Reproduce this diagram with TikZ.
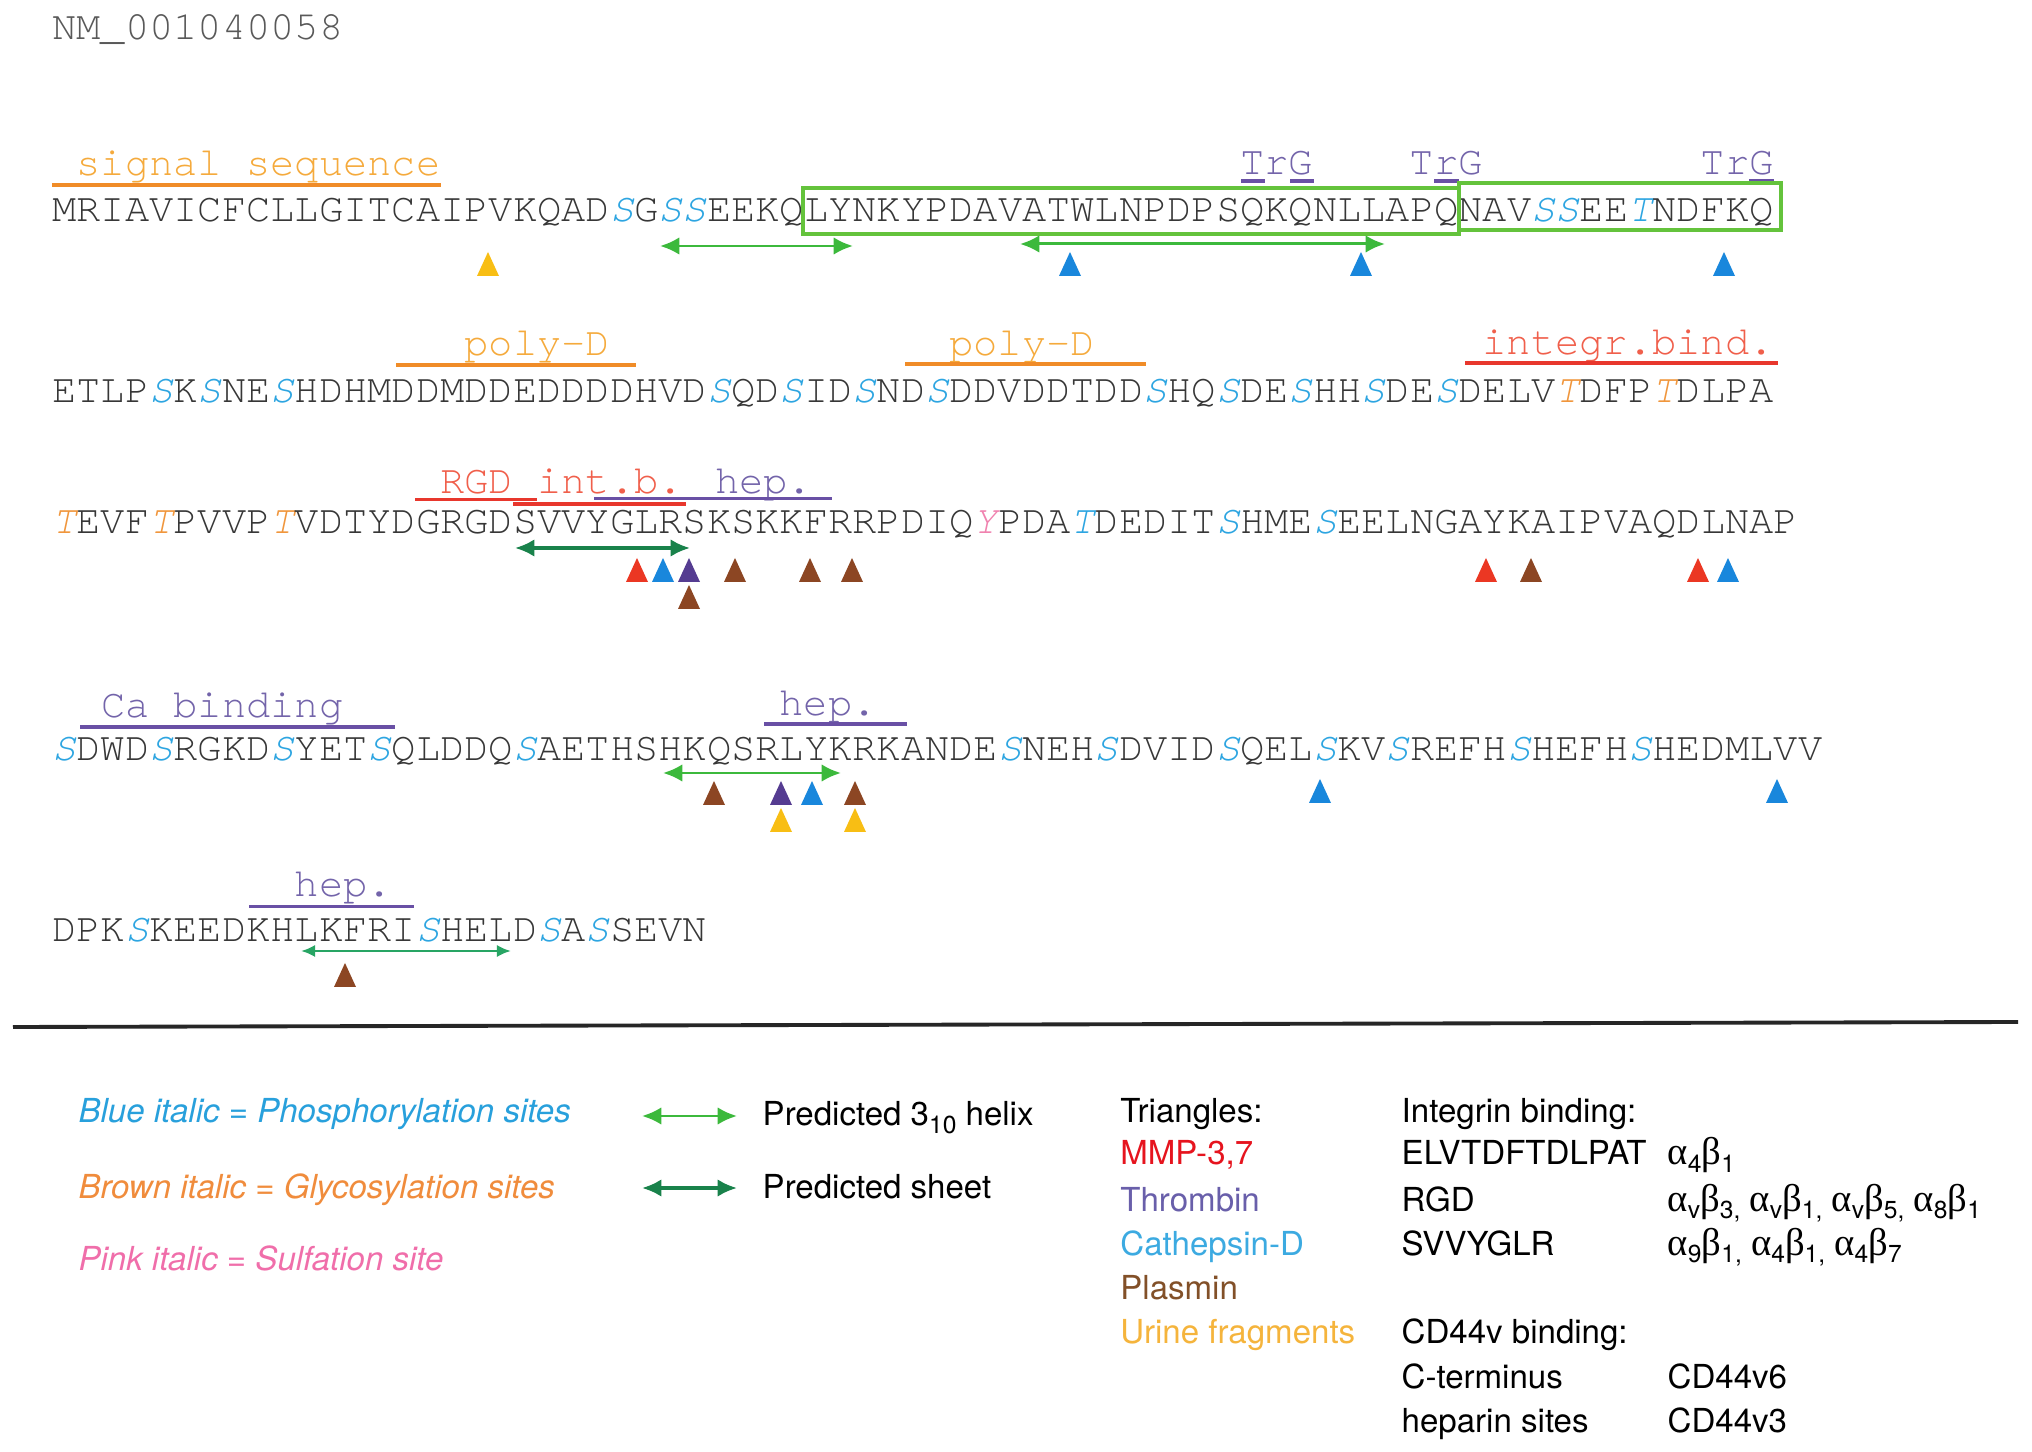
\documentclass[tikz,border=0pt]{standalone}
\usepackage{fontspec}
\usetikzlibrary{arrows.meta}
\newfontfamily\seqfont{TeX Gyre Cursor}
\newfontfamily\legfont{TeX Gyre Heros}
\newfontfamily\grkfont{Liberation Serif}
\definecolor{seqc}{RGB}{55,55,55}
\definecolor{phos}{RGB}{45,165,225}
\definecolor{glyc}{RGB}{240,150,60}
\definecolor{sulf}{RGB}{240,130,175}
\definecolor{boxg}{RGB}{100,195,60}
\definecolor{helixg}{RGB}{60,185,60}
\definecolor{sheetg}{RGB}{25,130,75}
\definecolor{midg}{RGB}{40,165,100}
\definecolor{orlab}{RGB}{245,170,60}
\definecolor{orline}{RGB}{240,140,40}
\definecolor{rdlab}{RGB}{240,95,75}
\definecolor{rdline}{RGB}{232,55,45}
\definecolor{pulab}{RGB}{115,100,170}
\definecolor{puline}{RGB}{105,80,165}
\definecolor{tred}{RGB}{235,55,35}
\definecolor{tblue}{RGB}{25,135,220}
\definecolor{tpurp}{RGB}{85,60,145}
\definecolor{tbrown}{RGB}{140,70,35}
\definecolor{tyell}{RGB}{248,190,20}
\definecolor{lgred}{RGB}{230,20,30}
\definecolor{lgpurp}{RGB}{105,95,170}
\definecolor{lgblue}{RGB}{60,170,225}
\definecolor{lgbrown}{RGB}{130,80,40}
\definecolor{lgyell}{RGB}{245,180,60}
\definecolor{lgphos}{RGB}{40,160,220}
\definecolor{lgglyc}{RGB}{240,140,60}
\definecolor{lgsulf}{RGB}{240,110,170}
\newcommand\Sp{{\color{phos}\itshape S}}
\newcommand\Tp{{\color{phos}\itshape T}}
\newcommand\Tg{{\color{glyc}\itshape T}}
\newcommand\Ys{{\color{sulf}\itshape Y}}
\newcommand\al{{\grkfont\fontsize{11pt}{12pt}\selectfont α}}
\newcommand\be{{\grkfont\fontsize{11pt}{12pt}\selectfont β}}
\newcommand\sbs[1]{\raisebox{-0.45ex}{\fontsize{7pt}{8pt}\selectfont #1}}
\newcommand\tri[3]{\fill[#1] ({#2-11},{#3+24}) -- (#2,#3) -- ({#2+11},{#3+24}) -- cycle;}
\tikzset{
  seq/.style={font=\seqfont\fontsize{11.49pt}{13pt}\selectfont, text=seqc, inner sep=0pt, anchor=base west},
  lab/.style={font=\seqfont\fontsize{11.49pt}{13pt}\selectfont, inner sep=0pt, anchor=base west},
  uline/.style={line width=1pt},
  helix/.style={helixg, line width=0.85pt, {Latex[length=5.5pt,width=5pt]}-{Latex[length=5.5pt,width=5pt]}},
  sheet/.style={sheetg, line width=1pt, {Latex[length=5.5pt,width=5pt]}-{Latex[length=5.5pt,width=5pt]}},
  seqbox/.style={boxg, line width=1.3pt},
  legtxt/.style={font=\legfont\fontsize{9.4pt}{11pt}\selectfont, inner sep=0pt, anchor=base west},
  legit/.style={font=\legfont\itshape\fontsize{9.4pt}{11pt}\selectfont, inner sep=0pt, anchor=base west},
}
\begin{document}
\begin{tikzpicture}[x=0.01cm, y=-0.01cm]
\useasboundingbox (0,0) rectangle (2032,1452);
\fill[white] (0,0) rectangle (2032,1452);

% title
\node[lab, text=black!65] (title) at (51.8,40) {NM\_001040058};

% ---------- line 1 ----------
\node[lab, text=orlab] (sig) at (76.0,176) {signal sequence};
\draw[uline, orline] (51.8,185) -- (441,185);
\node[lab, text=pulab] (trg1) at (1239.6,175) {TrG};
\node[lab, text=pulab] (trg2) at (1409.2,175) {TrG};
\node[lab, text=pulab] (trg3) at (1700.1,175) {TrG};
\draw[uline, puline] (1241,181) -- (1265,181);
\draw[uline, puline] (1290,181) -- (1314,181);
\draw[uline, puline] (1434,181) -- (1459,181);
\draw[uline, puline] (1749,181) -- (1774,181);
\node[seq] (l1) at (51.8,222) {MRIAVICFCLLGITCAIPVKQAD\Sp G\Sp\Sp EEKQLYNKYPDAVATWLNPDPSQKQNLLAPQNAV\Sp\Sp EE\Tp NDFKQ};
\draw[seqbox] (803,188) rectangle (1459,234);
\draw[seqbox] (1459,183) rectangle (1781,230);
\coordinate (h1a) at (660,246); \coordinate (h1b) at (853,246);
\coordinate (h2a) at (1020,244); \coordinate (h2b) at (1385,244);
\draw[helix] (h1a) -- (h1b);
\draw[helix] (h2a) -- (h2b);
\tri{tyell}{488}{252}
\tri{tblue}{1070}{252}
\tri{tblue}{1361}{252}
\tri{tblue}{1724}{252}

% ---------- line 2 ----------
\node[lab, text=orlab] (pd1) at (463.9,356) {poly-D};
\draw[uline, orline] (396,365) -- (636,365);
\node[lab, text=orlab] (pd2) at (948.7,356) {poly-D};
\draw[uline, orline] (905,364) -- (1146,364);
\node[lab, text=rdlab] (ib) at (1482,355) {integr.bind.};
\draw[uline, rdline] (1465,363) -- (1778,363);
\node[seq] (l2) at (51.8,403) {ETLP\Sp K\Sp NE\Sp HDHMDDMDDEDDDDHVD\Sp QD\Sp ID\Sp ND\Sp DDVDDTDD\Sp HQ\Sp DE\Sp HH\Sp DE\Sp DELV\Tg DFP\Tg DLPA};

% ---------- line 3 ----------
\node[lab] (rgd) at (439.6,494) {{\color{rdlab}RGD int.b. }{\color{pulab}hep.}};
\draw[uline, rdline] (415,499.5) -- (537,499.5);
\draw[uline, rdline] (513,504) -- (686,504);
\draw[uline, puline] (594,498.5) -- (832,498.5);
\node[seq] (l3) at (51.8,534) {\Tg EVF\Tg PVVP\Tg VDTYDGRGDSVVYGLRSKSKKFRRPDIQ\Ys PDA\Tp DEDIT\Sp HME\Sp EELNGAYKAIPVAQDLNAP};
\coordinate (s1a) at (515,548); \coordinate (s1b) at (690,548);
\draw[sheet] (s1a) -- (s1b);
\tri{tred}{637}{558}
\tri{tblue}{663}{558}
\tri{tpurp}{689}{558}
\tri{tbrown}{689}{585}
\tri{tbrown}{735}{558}
\tri{tbrown}{810}{558}
\tri{tbrown}{852}{558}
\tri{tred}{1486}{558}
\tri{tbrown}{1531}{558}
\tri{tred}{1698}{558}
\tri{tblue}{1728}{558}

% ---------- line 4 ----------
\node[lab, text=pulab] (ca) at (100.3,718) {Ca binding};
\draw[uline, puline] (80,727) -- (395,727);
\node[lab, text=pulab] (hep2) at (779.0,716) {hep.};
\draw[uline, puline] (764,724) -- (907,724);
\node[seq] (l4) at (51.8,761) {\Sp DWD\Sp RGKD\Sp YET\Sp QLDDQ\Sp AETHSHKQSRLYKRKANDE\Sp NEH\Sp DVID\Sp QEL\Sp KV\Sp REFH\Sp HEFH\Sp HEDMLVV};
\coordinate (h3a) at (663,773); \coordinate (h3b) at (841,773);
\draw[helix] (h3a) -- (h3b);
\tri{tbrown}{714}{781}
\tri{tpurp}{781}{781}
\tri{tblue}{812}{781}
\tri{tbrown}{855}{781}
\tri{tyell}{781}{808}
\tri{tyell}{855}{808}
\tri{tblue}{1320}{779}
\tri{tblue}{1777}{779}

% ---------- line 5 ----------
\node[lab, text=pulab] (hep3) at (294.2,897) {hep.};
\draw[uline, puline] (249,906.5) -- (414,906.5);
\node[seq] (l5) at (51.8,942) {DPK\Sp KEEDKHLKFRI\Sp HELD\Sp A\Sp SEVN};
\coordinate (s2a) at (301,951); \coordinate (s2b) at (511,951);
\draw[midg, line width=0.8pt, {Latex[length=4pt,width=3.5pt]}-{Latex[length=4pt,width=3.5pt]}] (s2a) -- (s2b);
\tri{tbrown}{345}{963}

% ---------- rule ----------
\coordinate (ra) at (13,1027); \coordinate (rb) at (2018,1022);
\draw[line width=1.1pt, black!85] (ra) -- (rb);

% ---------- legend ----------
\node[legit, text=lgphos] (lg1) at (77.8,1123) {Blue italic = Phosphorylation sites};
\node[legit, text=lgglyc] (lg2) at (77.8,1198) {Brown italic = Glycosylation sites};
\node[legit, text=lgsulf] (lg3) at (77.8,1270) {Pink italic = Sulfation site};

\coordinate (lha) at (642,1116); \coordinate (lhb) at (737,1116);
\coordinate (lsa) at (642,1188); \coordinate (lsb) at (737,1188);
\draw[helix] (lha) -- (lhb);
\draw[sheet] (lsa) -- (lsb);
\node[legtxt] (lh) at (762,1126) {Predicted 3\sbs{10} helix};
\node[legtxt] (ls) at (762,1198) {Predicted sheet};

\node[legtxt] (tr0) at (1119.7,1123) {Triangles:};
\node[legtxt, text=lgred] (tr1) at (1119.7,1165) {MMP-3,7};
\node[legtxt, text=lgpurp] (tr2) at (1119.7,1211) {Thrombin};
\node[legtxt, text=lgblue] (tr3) at (1119.7,1255) {Cathepsin-D};
\node[legtxt, text=lgbrown] (tr4) at (1119.7,1299) {Plasmin};
\node[legtxt, text=lgyell] (tr5) at (1119.7,1343) {Urine fragments};

\node[legtxt] (ib0) at (1401,1123) {Integrin binding:};
\node[legtxt] (ib1) at (1401,1165) {ELVTDFTDLPAT};
\node[legtxt] (ib1r) at (1667,1165) {\al\sbs{4}\be\sbs{1}};
\node[legtxt] (ib2) at (1401,1211) {RGD};
\node[legtxt] (ib2r) at (1667,1211) {\al\sbs{v}\be\sbs{3,} \al\sbs{v}\be\sbs{1,} \al\sbs{v}\be\sbs{5,} \al\sbs{8}\be\sbs{1}};
\node[legtxt] (ib3) at (1401,1255) {SVVYGLR};
\node[legtxt] (ib3r) at (1667,1255) {\al\sbs{9}\be\sbs{1,} \al\sbs{4}\be\sbs{1,} \al\sbs{4}\be\sbs{7}};
\node[legtxt] (cd0) at (1401,1343) {CD44v binding:};
\node[legtxt] (cd1) at (1401,1388) {C-terminus};
\node[legtxt] (cd1r) at (1667,1388) {CD44v6};
\node[legtxt] (cd2) at (1401,1432) {heparin sites};
\node[legtxt] (cd2r) at (1667,1432) {CD44v3};
\end{tikzpicture}
\end{document}
